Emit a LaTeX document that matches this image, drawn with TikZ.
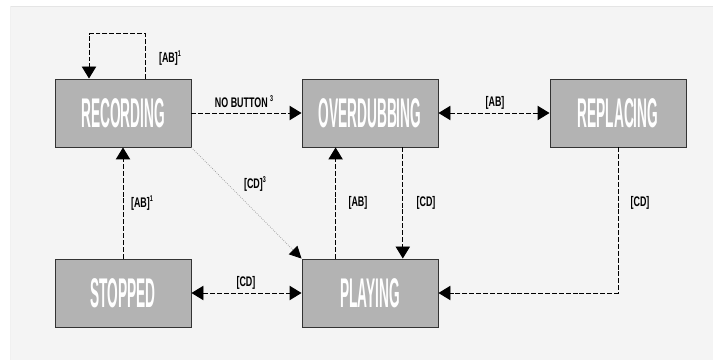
\documentclass[tikz,border=0pt]{standalone}
\usepackage{fontspec}
\usepackage{tikz}
\usetikzlibrary{arrows.meta, positioning}
\newfontfamily\modefont[FakeStretch=0.33]{Liberation Sans Bold}
\newfontfamily\trigfont[FakeStretch=0.64]{Liberation Sans Bold}
\newcommand{\trigsup}[1]{\raisebox{0.42em}{\fontsize{6}{6}\selectfont #1}}
\definecolor{panelgray}{HTML}{F4F4F4}
\definecolor{boxgray}{HTML}{B3B3B3}
\definecolor{edgegray}{HTML}{333333}

\begin{document}
\begin{tikzpicture}[
  mode/.style={draw=edgegray, line width=0.7pt, fill=boxgray, minimum width=3.4cm, minimum height=1.7cm, inner sep=0pt, text=white, font=\modefont\fontsize{29.5}{31}\selectfont},
  trig/.style={font=\trigfont\fontsize{9.9}{11}\selectfont, inner sep=1pt},
  arr/.style={-{Triangle[length=0.3cm, width=0.36cm]}, line width=0.7pt, dash pattern=on 3.5pt off 1.4pt},
  biarr/.style={{Triangle[length=0.3cm, width=0.36cm]}-{Triangle[length=0.3cm, width=0.36cm]}, line width=0.7pt, dash pattern=on 3.5pt off 1.4pt},
  thinarr/.style={-{Triangle[length=0.3cm, width=0.3cm, color=black]}, gray!85, line width=0.5pt, densely dotted}
]
\useasboundingbox (0,0) rectangle (17.825,9);
\fill[white] (0,0) rectangle (17.825,9);
\fill[panelgray] (0.25,0) rectangle (17.825,8.85);
\draw[gray!20, line width=0.6pt] (0.25,8.85) -- (17.825,8.85);
\draw[gray!12, line width=0.6pt] (0.25,0) -- (0.25,8.85);
\node[mode] (rec) at (3.075,6.175) {RECORDING};
\node[mode] (ovd) at (9.25,6.175) {OVERDUBBING};
\node[mode] (rep) at (15.45,6.175) {REPLACING};
\node[mode] (stp) at (3.075,1.675) {STOPPED};
\node[mode] (ply) at (9.25,1.675) {PLAYING};
\coordinate (loop) at ([xshift=0.55cm, yshift=1.125cm]rec.north);
\draw[arr] ([xshift=0.55cm]rec.north) -- (loop) -| ([xshift=-0.85cm]rec.north);
\node[trig] (lloop) at (4.25,7.55) {[AB]\trigsup{1}};
\draw[arr] (rec) -- (ovd);
\node[trig] (lnob) at (6.1,6.45) {NO BUTTON\,\trigsup{3}};
\draw[biarr] (ovd) -- (rep);
\node[trig] (lovrep) at (12.375,6.43) {[AB]};
\draw[arr] (stp) -- (rec);
\node[trig] (lstprec) at (3.55,3.93) {[AB]\trigsup{1}};
\draw[arr] ([xshift=-0.86cm]ply.north) -- ([xshift=-0.86cm]ovd.south);
\node[trig] (lplyovd) at (8.95,3.93) {[AB]};
\draw[arr] ([xshift=0.82cm]ovd.south) -- ([xshift=0.82cm]ply.north);
\node[trig] (lovdply) at (10.65,3.93) {[CD]};
\draw[arr] (rep.south) |- (ply.east);
\node[trig] (lrepply) at (16.0,3.93) {[CD]};
\draw[biarr] (stp) -- (ply);
\node[trig] (lstpply) at (6.15,1.93) {[CD]};
\draw[thinarr] (rec.south east) -- (ply.north west);
\node[trig] (lrecply) at (6.375,4.4) {[CD]\trigsup{3}};
\end{tikzpicture}
\end{document}
